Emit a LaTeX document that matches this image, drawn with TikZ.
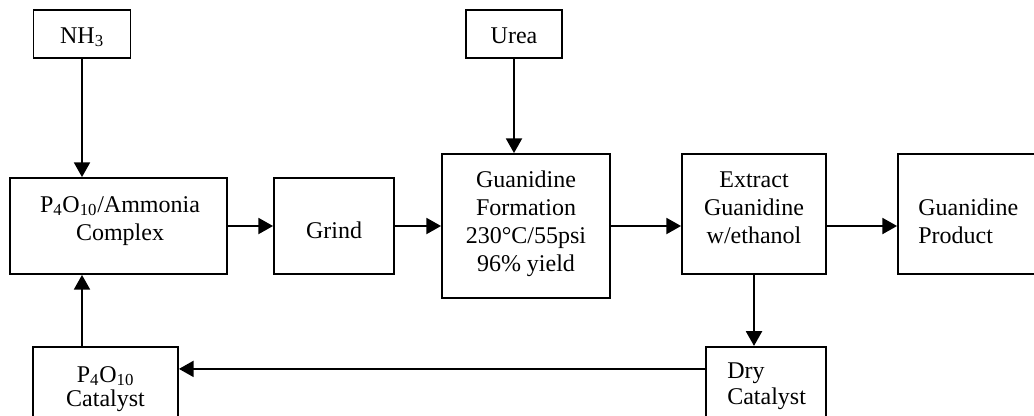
\documentclass[tikz,border=0pt]{standalone}
\usepackage{fontspec}
\setmainfont{Liberation Serif}
\usetikzlibrary{arrows.meta}
\begin{document}
\begin{tikzpicture}[x=0.75pt,y=-0.75pt,
  box/.style={draw,line width=1.4pt,inner sep=0pt},
  txt/.style={inner sep=0pt,align=center,anchor=base,font=\fontsize{18}{21}\selectfont},
  ltxt/.style={txt,align=left,anchor=base west},
  arr/.style={line width=1.4pt,-{Triangle[length=11pt,width=12pt]}}]
\useasboundingbox (0,0) rectangle (1034,415);
\clip (0,0) rectangle (1034,415);
% boxes
\node[box,minimum width=72.75pt,minimum height=36pt] (NH3) at (82,34) {};
\node[box,minimum width=162.75pt,minimum height=72pt] (Complex) at (118.5,226) {};
\node[box,minimum width=90pt,minimum height=72pt] (Grind) at (334,226) {};
\node[box,minimum width=72pt,minimum height=36pt] (Urea) at (514,34) {};
\node[box,minimum width=126pt,minimum height=108pt] (Guan) at (526,226) {};
\node[box,minimum width=108pt,minimum height=90pt] (Extract) at (754,214) {};
\node[box,minimum width=114pt,minimum height=90pt] (Product) at (974,214) {};
\node[box,minimum width=90pt,minimum height=70pt] (Dry) at (766,393.5) {};
\node[box,minimum width=108.75pt,minimum height=70pt] (PCat) at (105.5,393.5) {};
% texts (anchored at the baseline of their last line)
\node[txt] (NH3T) at (82,43) {NH\textsubscript{3}};
\node[txt] (ComplexT) at (120,240) {P\textsubscript{4}O\textsubscript{10}/Ammonia\\Complex};
\node[txt] (GrindT) at (334,238) {Grind};
\node[txt] (UreaT) at (514,43) {Urea};
\node[txt] (GuanT) at (526,271) {Guanidine\\Formation\\230°C/55psi\\96\% yield};
\node[txt] (ExtractT) at (754,243) {Extract\\Guanidine\\w/ethanol};
\node[ltxt] (ProductT) at (918,243) {Guanidine\\Product};
\node[ltxt] (DryT) at (727,404) {Dry\\[-1.5pt]Catalyst};
\node[txt] (PCatT) at (105.5,406) {P\textsubscript{4}O\textsubscript{10}\\[-3pt]Catalyst};
% connectors
\draw[arr] (NH3.south) -- (NH3.south |- Complex.north);
\draw[arr] (NH3.south |- PCat.north) -- (NH3.south |- Complex.south);
\draw[arr] (Complex.east) -- (Grind.west);
\draw[arr] (Grind.east) -- (Guan.west);
\draw[arr] (Urea.south) -- (Urea.south |- Guan.north);
\draw[arr] (Guan.east) -- (Extract.west |- Guan.east);
\draw[arr] (Extract.east |- Guan.east) -- (Product.west |- Guan.east);
\draw[arr] (Extract.south) -- (Extract.south |- Dry.north);
\draw[arr] ([yshift=-17.25pt]Dry.north west) -- ([yshift=-17.25pt]PCat.north east);
\end{tikzpicture}
\end{document}
